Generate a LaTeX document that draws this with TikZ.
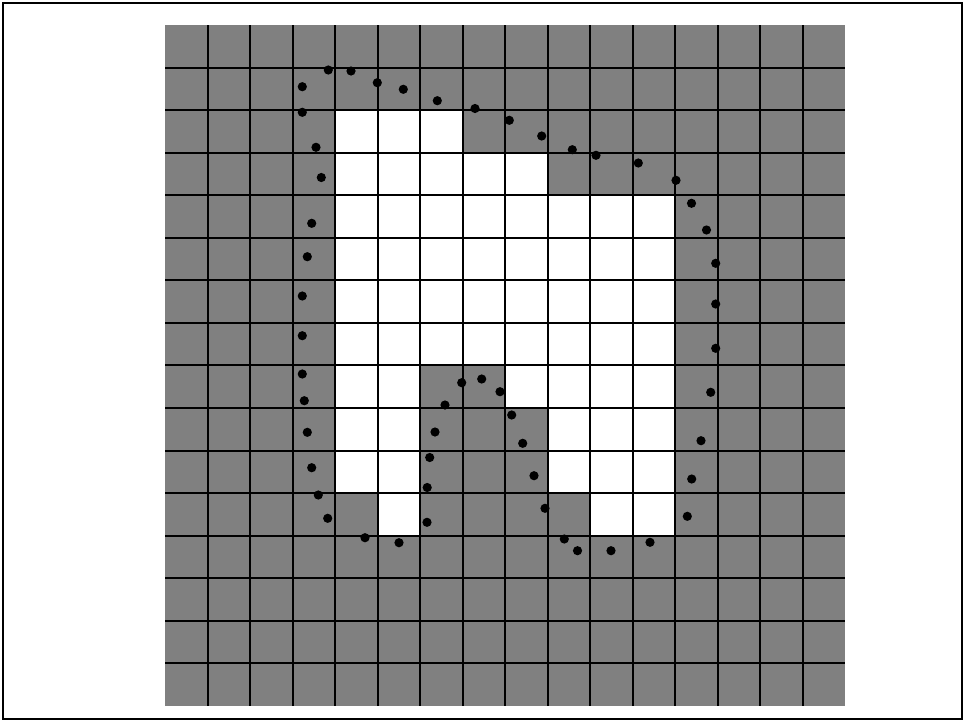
\documentclass[tikz,border=0pt]{standalone}
\definecolor{cellgray}{RGB}{128,128,128}
\tikzset{gridline/.style={line width=2pt,black},dotmark/.style={fill=black}}
\begin{document}
\begin{tikzpicture}[x=1pt,y=-1pt]
\useasboundingbox (0,0) rectangle (965,721);
\draw[line width=2pt] (2.5,2.5) rectangle (962,719);
\fill[cellgray] (165,25) rectangle (845,706);
\foreach \r/\cs in {2/{4,5,6},3/{4,5,6,7,8},4/{4,...,11},5/{4,...,11},6/{4,...,11},7/{4,...,11},8/{4,5,8,9,10,11},9/{4,5,9,10,11},10/{4,5,9,10,11},11/{5,10,11}}{
  \foreach \c in \cs {
    \fill[white] ({165+42.5*\c},{25+42.56*\r}) rectangle ++(42.5,42.56);
  }
}
\foreach \k in {1,...,15}{
  \draw[gridline] ({165+42.5*\k},25) -- ({165+42.5*\k},706);
  \draw[gridline] (165,{25+42.56*\k}) -- (845,{25+42.56*\k});
}
\foreach \x/\y in {302.3/86.7, 328.3/70, 351/71, 377.3/82.7, 403.3/89.3, 437.3/100.7, 475/108.5, 509.3/120.3, 541.7/136, 572.3/149.7, 596/155.3, 638.3/163, 676/180.3, 691.5/203.3, 706.5/230, 715.7/263.3, 715.7/304, 715.7/348.3, 710.7/392.3, 701/440.7, 691.7/479, 687.3/516.3, 650/542.3, 611/550.7, 577.5/550.7, 564.3/539, 545/508.3, 534/475.7, 522.7/443.3, 511.7/415, 500/391.7, 481.7/379, 461.7/382.7, 445/405, 435/432, 429.7/457.5, 427.2/487.5, 427/522.3, 399/542.7, 365/537.7, 327.7/518.3, 318.3/495, 311.7/467.7, 307.3/432.3, 304.3/400.7, 302.3/374, 302.3/335.7, 302.3/296, 307.3/256.7, 311.7/223.3, 321.3/177.5, 316/147.3, 302.3/112.3}{
  \fill[dotmark] (\x,\y) circle (4.6pt);
}
\end{tikzpicture}
\end{document}
